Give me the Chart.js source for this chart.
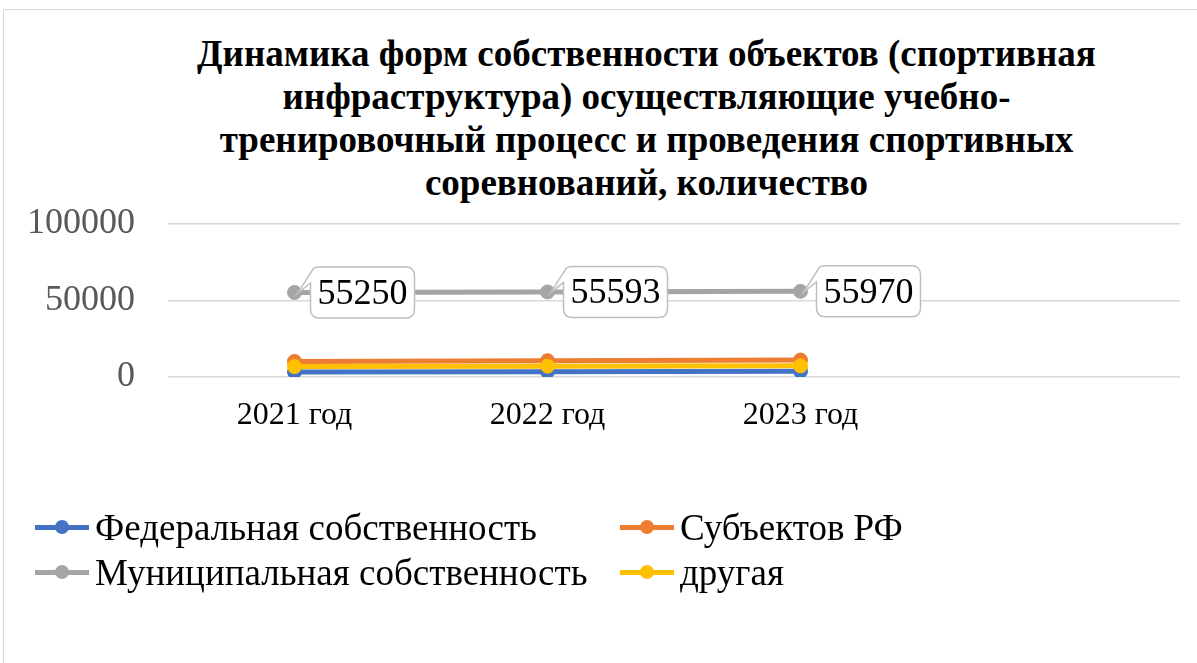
<!DOCTYPE html>
<html lang="ru">
<head>
<meta charset="utf-8">
<script src="https://cdn.jsdelivr.net/npm/chart.js@4.4.1/dist/chart.umd.min.js"></script>
<style>
  html, body { margin: 0; padding: 0; background: #fff; width: 1197px; height: 663px; overflow: hidden; }
  #frame { position: absolute; left: 3px; top: 9px; width: 1300px; height: 800px; border: 1.5px solid #d9d9d9; box-sizing: border-box; }
  #wrap { position: absolute; left: 0; top: 0; width: 1197px; height: 663px; }
  #title { position: absolute; left: 48px; top: 32px; width: 1197px; text-align: center;
           font-family: "Liberation Serif", "Times New Roman", serif; font-weight: bold; font-size: 37px;
           line-height: 43px; color: #000; white-space: nowrap; }
  #legend { position: absolute; left: 0; top: 0; width: 1197px; height: 663px; pointer-events: none;
            font-family: "Liberation Serif", "Times New Roman", serif; font-size: 37px; color: #000; }
  .item { position: absolute; display: flex; align-items: center; height: 44px; white-space: nowrap; }
  .mk { position: relative; width: 54px; height: 44px; margin-right: 6px; }
  .mk .ln { position: absolute; left: 0; right: 0; top: 19.5px; height: 5px; }
  .mk .dt { position: absolute; left: 20px; top: 15px; width: 14px; height: 14px; border-radius: 50%; }
</style>
</head>
<body>
<div id="frame"></div>
<div id="title"></div>
<div id="wrap"><canvas id="c"></canvas></div>
<div id="legend"></div>
<script>
// ---- data ----
const categories = ['2021 год', '2022 год', '2023 год', ''];
const seriesNames = ['Федеральная собственность', 'Субъектов РФ', 'Муниципальная собственность', 'другая'];
const federal   = [3300, 3500, 3700];
const subjects  = [10200, 10700, 11100];
const municipal = [55250, 55593, 55970];
const other     = [6800, 7100, 7300];
const yTicks    = [0, 50000, 100000];
const titleLines = [
  'Динамика форм собственности объектов (спортивная',
  'инфраструктура) осуществляющие учебно-',
  'тренировочный процесс и проведения спортивных',
  'соревнований, количество'
];
const colors = ['#4472c4', '#ed7d31', '#a5a5a5', '#ffc000'];
const seriesData = [federal, subjects, municipal, other];
const labelledSeries = 2; // municipal has data labels

const serif = '"Liberation Serif", "Times New Roman", serif';

// title as real text
const titleEl = document.getElementById('title');
titleLines.forEach(l => { const d = document.createElement('div'); d.textContent = l; titleEl.appendChild(d); });

const calloutPlugin = {
  id: 'callouts',
  afterDatasetsDraw(chart) {
    const ctx = chart.ctx;
    const meta = chart.getDatasetMeta(labelledSeries);
    const data = chart.data.datasets[labelledSeries].data;
    ctx.save();
    ctx.font = '36px ' + serif;
    meta.data.forEach((pt, i) => {
      const txt = String(data[i]);
      const tw = ctx.measureText(txt).width;
      const w = tw + 14, h = 51, r = 9;
      const x = pt.x + 16, y = pt.y - h / 2;
      ctx.beginPath();
      ctx.moveTo(x + r, y);
      ctx.lineTo(x + w - r, y);
      ctx.quadraticCurveTo(x + w, y, x + w, y + r);
      ctx.lineTo(x + w, y + h - r);
      ctx.quadraticCurveTo(x + w, y + h, x + w - r, y + h);
      ctx.lineTo(x + r, y + h);
      ctx.quadraticCurveTo(x, y + h, x, y + h - r);
      ctx.lineTo(x, y + 16);
      ctx.lineTo(pt.x + 3, pt.y + 1);
      ctx.lineTo(x + 2, y + 3);
      ctx.quadraticCurveTo(x + 3, y, x + r, y);
      ctx.closePath();
      ctx.fillStyle = '#ffffff';
      ctx.fill();
      ctx.lineWidth = 1.5;
      ctx.strokeStyle = '#bfbfbf';
      ctx.stroke();
      ctx.fillStyle = '#000000';
      ctx.textAlign = 'center';
      ctx.textBaseline = 'middle';
      ctx.fillText(txt, x + w / 2, pt.y + 2);
    });
    ctx.restore();
  }
};

const datasets = seriesNames.map((name, i) => ({
  label: name,
  data: seriesData[i],
  borderColor: colors[i],
  backgroundColor: colors[i],
  pointBackgroundColor: colors[i],
  pointBorderColor: colors[i],
  borderWidth: 5,
  pointRadius: 7,
  pointBorderWidth: 1,
  tension: 0,
  order: 4 - i
}));

new Chart(document.getElementById('c'), {
  type: 'line',
  data: { labels: categories, datasets },
  options: {
    responsive: true,
    maintainAspectRatio: false,
    animation: false,
    layout: { padding: { left: 0, right: 17, top: 224, bottom: 226 } },
    plugins: {
      legend: { display: false },
      tooltip: { enabled: false },
      title: { display: false }
    },
    scales: {
      x: {
        offset: true,
        grid: { display: false, drawTicks: false },
        border: { display: false },
        ticks: { color: '#000', font: { family: serif, size: 32 }, padding: 19, maxRotation: 0, autoSkip: false },
        afterFit(s) { s.height = 60; }
      },
      y: {
        min: 0, max: 100000,
        afterBuildTicks(s) { s.ticks = yTicks.map(v => ({ value: v })); },
        grid: { color: '#d9d9d9', lineWidth: 1.5, drawTicks: false },
        border: { display: false },
        ticks: { color: '#595959', font: { family: serif, size: 36 }, padding: 33, callback: v => String(v) },
        afterFit(s) { s.width = 168; }
      }
    }
  },
  plugins: [calloutPlugin]
});

// ---- HTML legend (built from series arrays) ----
const legend = document.getElementById('legend');
const pos = [[35, 505], [620, 505], [35, 550], [620, 550]];
seriesNames.forEach((name, i) => {
  const it = document.createElement('div');
  it.className = 'item';
  it.style.left = pos[i][0] + 'px';
  it.style.top = pos[i][1] + 'px';
  it.innerHTML = '<div class="mk"><div class="ln" style="background:' + colors[i] + '"></div><div class="dt" style="background:' + colors[i] + '"></div></div>';
  const sp = document.createElement('span');
  sp.textContent = name;
  it.appendChild(sp);
  legend.appendChild(it);
});
</script>
</body>
</html>
